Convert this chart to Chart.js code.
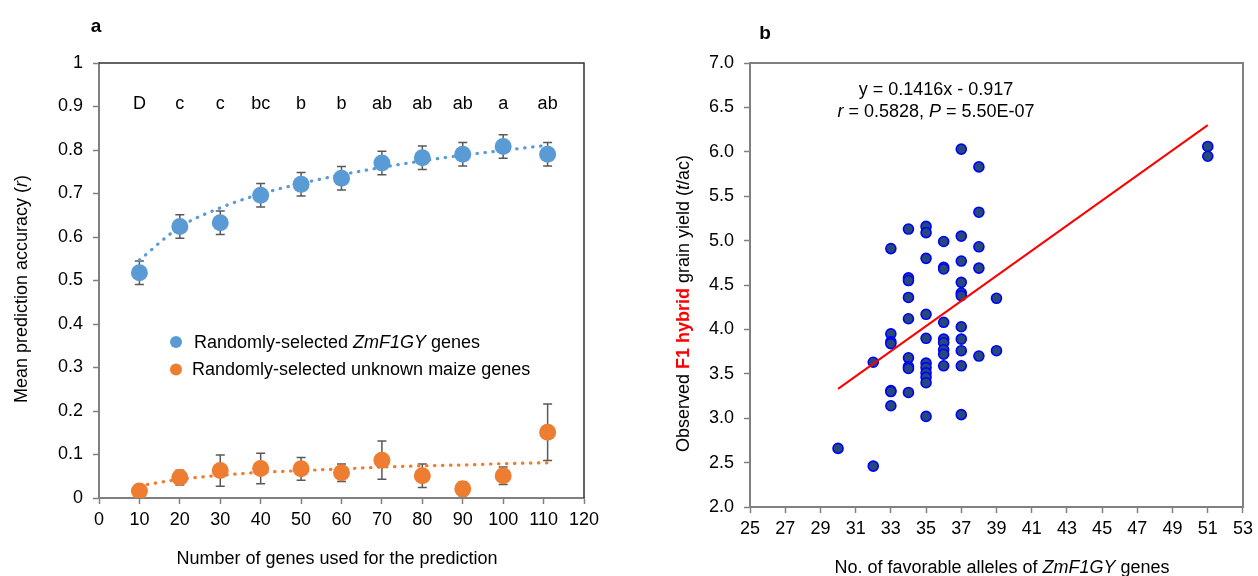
<!DOCTYPE html>
<html><head><meta charset="utf-8">
<script src="https://cdn.jsdelivr.net/npm/chart.js@4.4.0/dist/chart.umd.min.js"></script>
<style>
html,body{margin:0;padding:0;background:#fff;}
#wrap{position:relative;width:1258px;height:576px;overflow:hidden;}
#ca{position:absolute;left:0;top:0;}
#cb{position:absolute;left:620px;top:0;}
</style></head><body>
<div id="wrap"><canvas id="ca" width="620" height="576"></canvas><canvas id="cb" width="638" height="576"></canvas></div>
<script>
// ---------- Panel a data ----------
const geneCounts = [10, 20, 30, 40, 50, 60, 70, 80, 90, 100, 111];
const zmMeans   = [0.518, 0.624, 0.633, 0.696, 0.721, 0.735, 0.770, 0.782, 0.790, 0.808, 0.790];
const zmErrors  = [0.027, 0.027, 0.027, 0.027, 0.027, 0.027, 0.027, 0.027, 0.027, 0.027, 0.027];
const zmTrend   = [0.547, 0.623, 0.667, 0.699, 0.723, 0.743, 0.760, 0.775, 0.788, 0.799, 0.811];
const unkMeans  = [0.016, 0.047, 0.063, 0.068, 0.067, 0.058, 0.087, 0.051, 0.021, 0.051, 0.151];
const unkErrors = [0.008, 0.017, 0.036, 0.035, 0.026, 0.020, 0.044, 0.027, 0.016, 0.020, 0.065];
const unkTrend  = [0.028, 0.043, 0.052, 0.059, 0.063, 0.067, 0.071, 0.074, 0.076, 0.079, 0.081];
const sigLetters = ['D', 'c', 'c', 'bc', 'b', 'b', 'ab', 'ab', 'ab', 'a', 'ab'];
const letterLevel = 0.894;
const accTickLabels = ['0', '0.1', '0.2', '0.3', '0.4', '0.5', '0.6', '0.7', '0.8', '0.9', '1'];
const geneTickLabels = ['0', '10', '20', '30', '40', '50', '60', '70', '80', '90', '100', '110', '120'];

// ---------- Panel b data ----------
const alleleCounts = [30, 32, 32,
  33, 33, 33, 33, 33, 33, 33,
  34, 34, 34, 34, 34, 34, 34, 34, 34,
  35, 35, 35, 35, 35, 35, 35, 35, 35, 35, 35,
  36, 36, 36, 36, 36, 36, 36, 36, 36,
  37, 37, 37, 37, 37, 37, 37, 37, 37, 37, 37,
  38, 38, 38, 38, 38,
  39, 39,
  51, 51];
const yieldValues = [2.66, 2.46, 3.63,
  4.91, 3.95, 3.86, 3.84, 3.31, 3.30, 3.14,
  5.13, 4.58, 4.55, 4.36, 4.12, 3.68, 3.58, 3.56, 3.29,
  5.16, 5.09, 4.80, 4.17, 3.90, 3.62, 3.57, 3.51, 3.46, 3.40, 3.02,
  4.99, 4.70, 4.68, 4.08, 3.89, 3.85, 3.77, 3.72, 3.59,
  6.03, 5.05, 4.77, 4.53, 4.41, 4.38, 4.03, 3.89, 3.76, 3.59, 3.04,
  5.83, 5.32, 4.93, 4.69, 3.70,
  4.35, 3.76,
  6.06, 5.95];
const fitX = [30, 51];
const fitY = [3.33, 6.30];
const yieldTickLabels = ['2.0', '2.5', '3.0', '3.5', '4.0', '4.5', '5.0', '5.5', '6.0', '6.5', '7.0'];
const alleleTickLabels = ['25', '27', '29', '31', '33', '35', '37', '39', '41', '43', '45', '47', '49', '51', '53'];

// ---------- common ----------
const FAM = "'Liberation Sans', Arial, Helvetica, sans-serif";
Chart.defaults.font.family = FAM;
Chart.defaults.font.size = 18;
Chart.defaults.color = '#000';
const AXIS = '#808080';

function drawRuns(ctx, runs, x, y, align) {
  let total = 0;
  runs.forEach(r => { ctx.font = r.font; r.w = ctx.measureText(r.t).width; total += r.w; });
  let cx = align === 'center' ? x - total / 2 : x;
  ctx.textAlign = 'left';
  runs.forEach(r => { ctx.font = r.font; ctx.fillStyle = r.color || '#000'; ctx.fillText(r.t, cx, y); cx += r.w; });
}
const N = '18px ' + FAM, I = 'italic 18px ' + FAM, B = 'bold 18px ' + FAM;

// ---------- Panel a ----------
const panelA = {
  id: 'panelA',
  beforeDatasetsDraw(chart) {
    const { ctx, scales: { x, y } } = chart;
    ctx.save();
    ctx.strokeStyle = '#595959'; ctx.lineWidth = 1.5;
    [[zmMeans, zmErrors], [unkMeans, unkErrors]].forEach(([m, e]) => {
      geneCounts.forEach((g, i) => {
        const px = x.getPixelForValue(g);
        const t = y.getPixelForValue(m[i] + e[i]);
        const b = y.getPixelForValue(Math.max(0, m[i] - e[i]));
        ctx.beginPath();
        ctx.moveTo(px, t); ctx.lineTo(px, b);
        ctx.moveTo(px - 4.5, t); ctx.lineTo(px + 4.5, t);
        ctx.moveTo(px - 4.5, b); ctx.lineTo(px + 4.5, b);
        ctx.stroke();
      });
    });
    ctx.restore();
  },
  afterDraw(chart) {
    const { ctx, chartArea: a, scales: { x, y } } = chart;
    ctx.save();
    // top/right frame
    ctx.strokeStyle = '#333'; ctx.lineWidth = 1.5;
    ctx.beginPath(); ctx.moveTo(a.left, a.top); ctx.lineTo(a.right, a.top); ctx.lineTo(a.right, a.bottom); ctx.stroke();
    // significance letters
    ctx.font = N; ctx.fillStyle = '#000'; ctx.textAlign = 'center'; ctx.textBaseline = 'alphabetic';
    sigLetters.forEach((l, i) => ctx.fillText(l, x.getPixelForValue(geneCounts[i]), y.getPixelForValue(letterLevel)));
    // legend
    ctx.textBaseline = 'middle';
    ctx.fillStyle = '#5B9BD5'; ctx.beginPath(); ctx.arc(176, 342, 6, 0, Math.PI * 2); ctx.fill();
    ctx.fillStyle = '#ED7D31'; ctx.beginPath(); ctx.arc(176, 369.5, 6, 0, Math.PI * 2); ctx.fill();
    drawRuns(ctx, [{ t: 'Randomly-selected ', font: N }, { t: 'ZmF1GY', font: I }, { t: ' genes', font: N }], 194, 343, 'left');
    drawRuns(ctx, [{ t: 'Randomly-selected unknown maize genes', font: N }], 192, 370.5, 'left');
    // axis titles
    ctx.textBaseline = 'alphabetic';
    drawRuns(ctx, [{ t: 'Number of genes used for the prediction', font: N }], 337, 564, 'center');
    ctx.translate(27, 289); ctx.rotate(-Math.PI / 2);
    drawRuns(ctx, [{ t: 'Mean prediction accuracy (', font: N }, { t: 'r', font: I }, { t: ')', font: N }], 0, 0, 'center');
    ctx.restore();
    ctx.save();
    ctx.font = 'bold 19px ' + FAM; ctx.fillStyle = '#000'; ctx.textAlign = 'center';
    ctx.fillText('a', 96, 32);
    ctx.restore();
  }
};

new Chart(document.getElementById('ca'), {
  type: 'line',
  data: {
    datasets: [
      { data: geneCounts.map((g, i) => ({ x: g, y: zmMeans[i] })), showLine: false, pointRadius: 8.5, pointHoverRadius: 8.5,
        pointBackgroundColor: '#5B9BD5', pointBorderWidth: 0, order: 0 },
      { data: geneCounts.map((g, i) => ({ x: g, y: unkMeans[i] })), showLine: false, pointRadius: 8.5, pointHoverRadius: 8.5,
        pointBackgroundColor: '#ED7D31', pointBorderWidth: 0, order: 0 },
      { data: geneCounts.map((g, i) => ({ x: g, y: zmTrend[i] })), borderColor: '#5B9BD5', borderWidth: 3.2,
        borderDash: [0.5, 7.5], borderCapStyle: 'round', cubicInterpolationMode: 'monotone', pointRadius: 0, order: 2 },
      { data: geneCounts.map((g, i) => ({ x: g, y: unkTrend[i] })), borderColor: '#ED7D31', borderWidth: 3.2,
        borderDash: [0.5, 7.5], borderCapStyle: 'round', cubicInterpolationMode: 'monotone', pointRadius: 0, order: 2 }
    ]
  },
  options: {
    responsive: false, devicePixelRatio: 1, animation: false,
    layout: { padding: { left: 0, right: 36, top: 63, bottom: 0 } },
    plugins: { legend: { display: false }, tooltip: { enabled: false } },
    scales: {
      x: { type: 'linear', min: 0, max: 120,
        ticks: { stepSize: 10, padding: 5, maxRotation: 0, autoSkip: false, callback: (v, i) => geneTickLabels[i] },
        grid: { drawOnChartArea: false, tickLength: 6, tickColor: AXIS, tickWidth: 1.5 },
        border: { color: AXIS, width: 2 },
        afterFit: s => { s.height = 78; } },
      y: { min: 0, max: 1,
        ticks: { stepSize: 0.1, padding: 10, callback: (v, i) => accTickLabels[i] },
        grid: { drawOnChartArea: false, tickLength: 6, tickColor: AXIS, tickWidth: 1.5 },
        border: { color: AXIS, width: 2 },
        afterFit: s => { s.width = 99; } }
    }
  },
  plugins: [panelA]
});

// ---------- Panel b ----------
const panelB = {
  id: 'panelB',
  afterDraw(chart) {
    const { ctx, chartArea: a } = chart;
    ctx.save();
    ctx.strokeStyle = AXIS; ctx.lineWidth = 2;
    ctx.strokeRect(a.left, a.top, a.right - a.left, a.bottom - a.top);
    ctx.textBaseline = 'alphabetic';
    drawRuns(ctx, [{ t: 'y = 0.1416x - 0.917', font: N }], 316, 95, 'center');
    drawRuns(ctx, [{ t: 'r', font: I }, { t: ' = 0.5828, ', font: N }, { t: 'P', font: I }, { t: ' = 5.50E-07', font: N }], 316, 117, 'center');
    drawRuns(ctx, [{ t: 'No. of favorable alleles of ', font: N }, { t: 'ZmF1GY', font: I }, { t: ' genes', font: N }], 382, 573, 'center');
    ctx.translate(69, 303.5); ctx.rotate(-Math.PI / 2);
    drawRuns(ctx, [{ t: 'Observed ', font: N }, { t: 'F1 hybrid', font: B, color: '#FF0000' }, { t: ' grain yield (', font: N }, { t: 't', font: I }, { t: '/ac)', font: N }], 0, 0, 'center');
    ctx.restore();
    ctx.save();
    ctx.font = 'bold 19px ' + FAM; ctx.fillStyle = '#000'; ctx.textAlign = 'center';
    ctx.fillText('b', 145, 39);
    ctx.restore();
  }
};

new Chart(document.getElementById('cb'), {
  type: 'scatter',
  data: {
    datasets: [
      { type: 'line', data: fitX.map((v, i) => ({ x: v, y: fitY[i] })), borderColor: '#FF0000', borderWidth: 2,
        pointRadius: 0, order: 0 },
      { data: alleleCounts.map((v, i) => ({ x: v, y: yieldValues[i] })), pointRadius: 5, pointHoverRadius: 5,
        pointBackgroundColor: '#24497A', pointBorderColor: '#0000FF', pointBorderWidth: 1.6, order: 1 }
    ]
  },
  options: {
    responsive: false, devicePixelRatio: 1, animation: false,
    layout: { padding: { left: 0, right: 13, top: 63, bottom: 0 } },
    plugins: { legend: { display: false }, tooltip: { enabled: false } },
    scales: {
      x: { type: 'linear', min: 25, max: 53,
        ticks: { stepSize: 2, padding: 5, maxRotation: 0, autoSkip: false, callback: (v, i) => alleleTickLabels[i] },
        grid: { drawOnChartArea: false, tickLength: 6, tickColor: AXIS, tickWidth: 1.5 },
        border: { color: AXIS, width: 2 },
        afterFit: s => { s.height = 69; } },
      y: { min: 2, max: 7,
        ticks: { stepSize: 0.5, padding: 10, callback: (v, i) => yieldTickLabels[i] },
        grid: { drawOnChartArea: false, tickLength: 6, tickColor: AXIS, tickWidth: 1.5 },
        border: { color: AXIS, width: 2 },
        afterFit: s => { s.width = 130; } }
    }
  },
  plugins: [panelB]
});
</script>
</body></html>
